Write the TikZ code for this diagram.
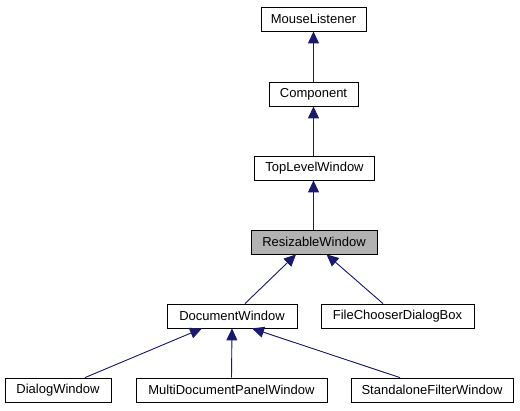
\documentclass[tikz,border=0pt]{standalone}
\usepackage{fontspec}
\setmainfont{Liberation Sans}
\usetikzlibrary{arrows.meta}

\begin{document}
\begin{tikzpicture}[x=1pt, y=-1pt,
  cls/.style={draw, line width=0.8pt, minimum height=24pt, inner sep=0pt,
    font=\fontsize{13}{15}\selectfont},
  current/.style={cls, fill=black!30},
  inherit/.style={draw={rgb,255:red,25;green,25;blue,112}, line width=0.9pt,
    {Triangle[length=12pt,width=11pt]}-, fill={rgb,255:red,25;green,25;blue,112}}]
 \useasboundingbox (0,0) rectangle (520,411);

 \node[cls, minimum width=105pt] (ml) at (313.5,19) {MouseListener};
 \node[cls, minimum width=89pt] (comp) at (313.5,94) {Component};
 \node[cls, minimum width=120pt] (tlw) at (314.5,168) {TopLevelWindow};
 \node[current, minimum width=126pt] (rw) at (314,242) {ResizableWindow};
 \node[cls, minimum width=130pt] (dw) at (232,316) {DocumentWindow};
 \node[cls, minimum width=153pt] (fcd) at (397.5,316) {FileChooserDialogBox};
 \node[cls, minimum width=106pt] (dlg) at (58,390) {DialogWindow};
 \node[cls, minimum width=191pt] (mdp) at (231.5,390) {MultiDocumentPanelWindow};
 \node[cls, minimum width=162pt] (sfw) at (432,390) {StandaloneFilterWindow};

 \draw[inherit] (ml.south) -- (comp.north);
 \draw[inherit] (comp.south) -- ([xshift=-1pt]tlw.north);
 \draw[inherit] ([xshift=-1pt]tlw.south) -- ([xshift=-0.5pt]rw.north);
 \draw[inherit] ([xshift=-18pt]rw.south) -- ([xshift=13pt]dw.north);
 \draw[inherit] ([xshift=12.5pt]rw.south) -- ([xshift=-14.5pt]fcd.north);
 \draw[inherit] ([xshift=-30pt]dw.south) -- ([xshift=27pt]dlg.north);
 \draw[inherit] (dw.south) -- (mdp.north);
 \draw[inherit] ([xshift=20pt]dw.south) -- ([xshift=-32pt]sfw.north);
\end{tikzpicture}
\end{document}
